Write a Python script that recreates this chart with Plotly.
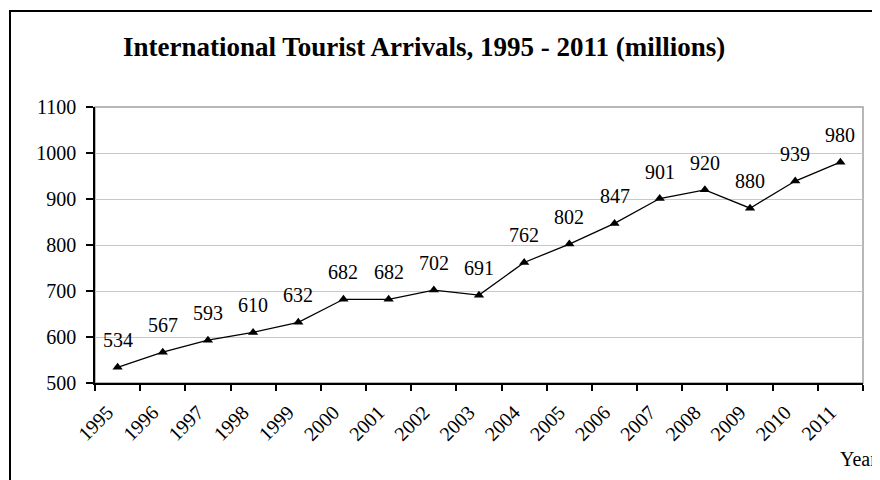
import plotly.graph_objects as go

years = [str(y) for y in range(1995, 2012)]
arrivals = [534, 567, 593, 610, 632, 682, 682, 702, 691, 762, 802, 847, 901, 920, 880, 939, 980]
y_ticks = [500, 600, 700, 800, 900, 1000, 1100]
title_text = "International Tourist Arrivals, 1995 - 2011 (millions)"
x_title = "Year"

OFF = 8  # page body margin
W, H = 880 - OFF, 480 - OFF
L, R, T, B = 95 - OFF, 17, 107 - OFF, 97
pw, ph = W - L - R, H - T - B

def px_x(sx):
    return (sx - OFF - L) / pw

def px_y(sy):
    return (H - B - (sy - OFF)) / ph

FONT = "Liberation Serif, Times New Roman, serif"

fig = go.Figure()
fig.add_trace(go.Scatter(
    x=years, y=arrivals, mode="lines+markers",
    line=dict(color="black", width=1.3),
    marker=dict(symbol="triangle-up", size=9, color="black"),
    hoverinfo="x+y", showlegend=False,
))

annotations = []
for i, v in enumerate(arrivals):
    annotations.append(dict(x=i, y=v, xref="x", yref="y", text=str(v),
                            showarrow=False, yshift=27, yanchor="middle",
                            font=dict(family=FONT, size=20, color="black")))
annotations.append(dict(x=px_x(424), y=px_y(47), xref="paper", yref="paper",
                        text="<b>" + title_text + "</b>", showarrow=False,
                        xanchor="center", yanchor="middle",
                        font=dict(family=FONT, size=27, color="black")))
annotations.append(dict(x=px_x(838), y=px_y(459), xref="paper", yref="paper",
                        text=x_title, showarrow=False, xanchor="left", yanchor="middle",
                        font=dict(family=FONT, size=20, color="black")))

shapes = [
    dict(type="rect", xref="paper", yref="paper", x0=0, x1=1, y0=0, y1=1,
         line=dict(color="#a0a0a0", width=1.5), layer="below"),
    dict(type="rect", xref="paper", yref="paper",
         x0=px_x(10), x1=px_x(920), y0=px_y(520), y1=px_y(11),
         line=dict(color="black", width=2), layer="above"),
]

fig.update_layout(
    width=W, height=H,
    margin=dict(l=L, r=R, t=T, b=B, autoexpand=False),
    paper_bgcolor="white", plot_bgcolor="white",
    font=dict(family=FONT, size=20, color="black"),
    annotations=annotations, shapes=shapes,
    xaxis=dict(type="category", tickangle=-45, tickson="boundaries",
               ticks="outside", ticklen=6, tickcolor="black", tickwidth=1.5,
               showline=True, linecolor="black", linewidth=1.5,
               ticklabelshift=-10, ticklabelstandoff=8,
               showgrid=False, tickfont=dict(family=FONT, size=20),
               range=[-0.5, len(years) - 0.5]),
    yaxis=dict(range=[500, 1100], tickvals=y_ticks, ticks="outside", ticklen=7,
               tickcolor="black", tickwidth=1.5,
               showline=True, linecolor="black", linewidth=1.5,
               ticklabelstandoff=6,
               showgrid=True, gridcolor="#c8c8c8", gridwidth=1.2,
               zeroline=False, tickfont=dict(family=FONT, size=20)),
)

fig.write_html("out.html")
